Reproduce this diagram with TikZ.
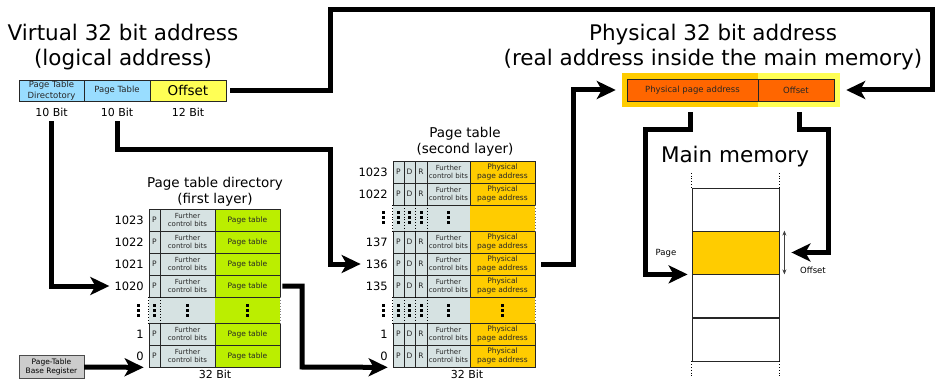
\documentclass[tikz,border=0pt]{standalone}
\usepackage{fontspec}
\setmainfont{DejaVu Sans}
\usetikzlibrary{arrows.meta,backgrounds}

\definecolor{vablue}{HTML}{99DDFF}
\definecolor{offyellow}{HTML}{FFFF55}
\definecolor{ctrlgrey}{HTML}{D6E2E2}
\definecolor{ptgreen}{HTML}{BBEE00}
\definecolor{physyellow}{HTML}{FFCC00}
\definecolor{physorange}{HTML}{FF6600}
\definecolor{regrey}{HTML}{CCCCCC}

% three square dots, centred at (x,y)
\newcommand{\bigvdots}[2]{\foreach \k in {-5,0,5}{\fill (#1,#2+\k) ++(-1.5pt,-1.5pt) rectangle ++(3pt,3pt);}}

\tikzset{
  title/.style={align=center,inner sep=0pt,font=\fontsize{21.5}{25}\selectfont},
  subtitle/.style={align=center,inner sep=0pt,font=\fontsize{13.5}{16.5}\selectfont},
  cell/.style={draw=black!85,line width=0.7pt,minimum height=22pt,inner sep=0pt,align=center,text=black!85,font=\fontsize{7}{8}\selectfont},
  letter/.style={cell,font=\fontsize{7.5}{8}\selectfont},
  memcell/.style={draw=black!85,line width=0.8pt,minimum width=87pt,minimum height=43pt,inner sep=0pt},
  hl/.style={draw=none,minimum height=34pt,inner sep=0pt},
  idx/.style={anchor=east,inner sep=2pt,font=\fontsize{11.5}{13}\selectfont},
  bits/.style={inner sep=1pt,font=\fontsize{11}{13}\selectfont},
  small/.style={inner sep=1pt,font=\fontsize{8.5}{10}\selectfont},
  gap/.style={dotted,line width=0.8pt},
  fat/.style={line width=5pt,-{Stealth[length=19pt,width=18pt,inset=5pt]}},
}

\begin{document}
\begin{tikzpicture}[x=1pt,y=-1pt]
\useasboundingbox (0,0) rectangle (937,382);

% titles
\path (123,47) node[title](vtitle){Virtual 32 bit address\\(logical address)};
\path (713,47) node[title](ptitle){Physical 32 bit address\\(real address inside the main memory)};
\path (215,192) node[subtitle](dtitle){Page table directory\\(first layer)};
\path (465,142) node[subtitle](stitle){Page table\\(second layer)};
\path (735,157) node[title](mtitle){Main memory};

% virtual address
\path (51.5,90.5) node[cell,minimum width=65pt,minimum height=21pt,fill=vablue,font=\fontsize{8.5}{10.5}\selectfont](vdir){Page Table\\Directotory};
\path (117,90.5) node[cell,minimum width=66pt,minimum height=21pt,fill=vablue,font=\fontsize{8.5}{10}\selectfont](vpt){Page Table};
\path (188,90.5) node[cell,minimum width=76pt,minimum height=21pt,fill=offyellow,text=black,font=\fontsize{13.5}{15}\selectfont](voff){Offset};
\path (51.5,112) node[bits](bdir){10 Bit};
\path (117,112) node[bits](bpt){10 Bit};
\path (188,112) node[bits](boff){12 Bit};

% page table directory
\foreach \n/\y in {1023/220,1022/242,1021/264,1020/286,1/334,0/356}{
  \path (154.5,\y) node[letter,minimum width=11pt,fill=ctrlgrey](dp\n){P};
  \path (187.5,\y) node[cell,minimum width=55pt,fill=ctrlgrey](df\n){Further\\control bits};
  \path (247.5,\y) node[cell,minimum width=65pt,fill=ptgreen,font=\fontsize{7.5}{9}\selectfont](dt\n){Page table};
  \path (146,\y) node[idx](dl\n){\n};
}
\begin{scope}[on background layer]
\fill[ctrlgrey] (dp1020.south west) rectangle (df1.north east);
\fill[ptgreen] (dt1020.south west) rectangle (dt1.north east);
\end{scope}
\draw[gap] (dp1020.south west) -- (dp1.north west);
\draw[gap] (dp1020.south east) -- (dp1.north east);
\draw[gap,black!50] (dt1020.south east) -- (dt1.north east);
\foreach \x in {138,154.5,187.5,247.5} \bigvdots{\x}{310};
\path (215,374.5) node[bits](dbits){32 Bit};

% page table
\foreach \n/\y in {1023/172,1022/194,137/242,136/264,135/286,1/334,0/356}{
  \path (398.5,\y) node[letter,minimum width=11pt,fill=ctrlgrey](sp\n){P};
  \path (409.5,\y) node[letter,minimum width=11pt,fill=ctrlgrey](sd\n){D};
  \path (421,\y) node[letter,minimum width=12pt,fill=ctrlgrey](sr\n){R};
  \path (448.5,\y) node[cell,minimum width=43pt,fill=ctrlgrey](sf\n){Further\\control bits};
  \path (502.5,\y) node[cell,minimum width=65pt,fill=physyellow,font=\fontsize{7.5}{8.5}\selectfont](sa\n){Physical\\page address};
  \path (390,\y) node[idx](sl\n){\n};
}
\begin{scope}[on background layer]
\fill[ctrlgrey] (sp1022.south west) rectangle (sf137.north east);
\fill[physyellow] (sa1022.south west) rectangle (sa137.north east);
\fill[ctrlgrey] (sp135.south west) rectangle (sf1.north east);
\fill[physyellow] (sa135.south west) rectangle (sa1.north east);
\end{scope}
\foreach \a/\b in {1022/137,135/1}{
  \draw[gap] (sp\a.south west) -- (sp\b.north west);
  \draw[gap] (sp\a.south east) -- (sp\b.north east);
  \draw[gap] (sd\a.south east) -- (sd\b.north east);
  \draw[gap] (sr\a.south east) -- (sr\b.north east);
  \draw[gap,black!60] (sa\a.south east) -- (sa\b.north east);
}
\foreach \x in {383,398.5,409.5,421,448.5} \bigvdots{\x}{218};
\foreach \x in {383,398.5,409.5,421,448.5,502.5} \bigvdots{\x}{310};
\path (467,374.5) node[bits](sbits){32 Bit};

% physical address
\path (690,90) node[hl,minimum width=136pt,fill=physyellow](hlp){};
\path (799,90) node[hl,minimum width=82pt,fill=offyellow](hlo){};
\path (692.5,90) node[cell,minimum width=131pt,fill=physorange,font=\fontsize{8.5}{10}\selectfont](ppa){Physical page address};
\path (796,90) node[cell,minimum width=76pt,fill=physorange,font=\fontsize{8.5}{10}\selectfont](poff){Offset};

% base register
\path (51.5,367) node[draw=black!70,fill=regrey,minimum width=65pt,minimum height=23pt,inner sep=0pt,align=center,font=\fontsize{7.5}{8.5}\selectfont](ptbr){Page-Table\\Base Register};

% main memory
\path (735.5,209.5) node[memcell](mem1){};
\path (735.5,252.5) node[memcell,fill=physyellow](mempage){};
\path (735.5,296) node[memcell](mem3){};
\path (735.5,339.5) node[memcell](mem4){};
\draw[gap] (mem1.north west) -- ++(0,-16);
\draw[gap] (mem1.north east) -- ++(0,-16);
\draw[gap] (mem4.south west) -- ++(0,16);
\draw[gap] (mem4.south east) -- ++(0,16);
\draw[black!75,line width=1pt,{Stealth[length=5pt,width=4pt]}-{Stealth[length=5pt,width=4pt]}] ([xshift=5pt]mempage.north east) -- ([xshift=5pt]mempage.south east);
\path (666,253) node[small](lpage){Page};
\path (813,270) node[small](loff){Offset};

% arrows
\coordinate (c1a) at (330,10);
\coordinate (c1b) at (932,10);
\draw[fat] ([xshift=4pt]voff.east) -| (c1a) -- (c1b) |- ([xshift=6pt]hlo.east);

\draw[fat] ([yshift=-4pt]bdir.south) |- ([xshift=-3pt]dl1020.west);

\coordinate (c3) at (330,150);
\draw[fat] ([yshift=-4pt]bpt.south) |- (c3) |- ([xshift=-3pt]sl136.west);

\draw[fat] (ptbr.east) -- ([xshift=-5pt]dp0.south west);

\coordinate (c5) at (302,367);
\draw[fat] ([xshift=2pt]dt1020.east) -| (c5) -- ([xshift=-5pt]sp0.south west);

\coordinate (c6) at (573,90);
\draw[fat] ([xshift=6pt]sa136.east) -| (c6) -- ([xshift=-6pt]hlp.west);

\coordinate (c7) at (645,130);
\draw[fat] ([yshift=-5pt]hlp.south) |- (c7) |- ([xshift=-4pt]mempage.south west);
\coordinate (c8) at (828,130);
\draw[fat] ([yshift=-5pt]hlo.south) |- (c8) |- ([xshift=12pt]mempage.east);

\end{tikzpicture}
\end{document}
